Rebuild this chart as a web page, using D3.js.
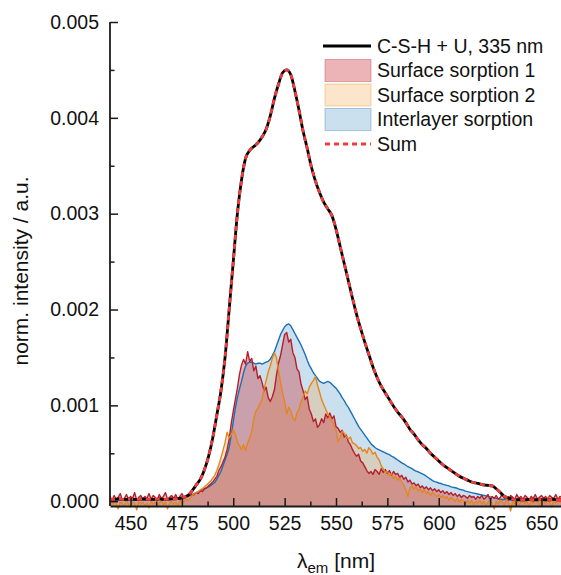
<!DOCTYPE html>
<html>
<head>
<meta charset="utf-8">
<script src="https://cdn.jsdelivr.net/npm/d3@7"></script>
<style>
  html, body { margin: 0; padding: 0; background: #fff; }
  svg { display: block; font-family: "Liberation Sans", Arial, sans-serif; }
</style>
</head>
<body>
<svg id="chart" width="561" height="575"></svg>
<script>
// Emission spectra in units of 1e-4 (normalised intensity).
const UNIT = 1e-4;

// Measured spectrum, sampled every 2 nm from 440 to 660 nm.
const totalStart = 440, totalStep = 2;
const totalSpectrum = [
  0.2,0.2,0.25,0.2,0.2,0.25,0.2,0.2,0.25,0.2,0.2,0.2,0.25,0.2,0.2,0.25,0.25,0.3,
  0.4,0.6,1.1,1.7,2.3,3.3,4.7,6.6,9.0,11.5,15.0,20.0,25.0,30.0,33.5,35.8,36.6,37.0,
  37.4,38.0,38.8,40.2,42.0,43.5,44.7,45.0,44.5,42.8,40.8,38.6,36.8,34.9,33.4,32.2,
  31.2,30.5,29.8,28.4,26.6,24.8,23.0,21.2,19.5,18.0,16.6,15.3,14.0,12.9,12.0,11.3,
  10.6,9.9,9.3,8.8,8.2,7.5,7.0,6.4,5.9,5.5,5.0,4.6,4.2,3.8,3.5,3.2,2.9,2.6,2.4,2.2,
  2.0,1.9,1.8,1.7,1.65,1.6,1.3,0.9,0.5,0.35,0.2,0.15,
  0.15,0.15,0.2,0.15,0.15,0.2,0.15,0.15,0.2,0.15,0.15
];
// The fitted sum of the three components coincides with the measured spectrum.
const fittedSum = totalSpectrum;

// Component spectra, sampled every 1 nm from 440 to 660 nm.
const compStart = 440, compStep = 1;
const surfaceSorption1 = [
  0.5,0.1,0.6,0.2,0.4,0.8,0.1,0.3,0.7,0.2,
  0.5,0.3,0.9,0.1,0.4,0.6,0.2,0.5,0.3,0.8,
  0.2,0.6,0.4,0.1,0.7,0.3,0.5,0.9,0.2,0.4,
  0.6,0.3,0.7,0.2,0.5,0.8,0.4,0.6,0.5,0.7,
  0.6,0.7,0.9,0.8,1.1,1.0,1.3,1.4,1.6,1.8,
  2.0,2.3,2.6,3.2,3.6,4.1,4.6,5.4,6.5,8.1,
  9.4,10.6,11.8,13.2,14.2,14.8,14.3,15.6,14.6,14.9,
  13.6,14.1,12.8,13.1,12.4,11.5,11.9,10.8,10.4,10.9,
  11.6,13.1,14.4,15.2,16.3,17.4,17.6,16.6,16.9,15.5,
  15.0,13.8,13.5,12.2,11.5,10.6,10.9,9.6,9.1,8.3,
  8.6,7.7,8.0,8.6,8.2,9.1,8.7,9.2,8.6,8.9,
  7.8,7.6,7.2,7.4,6.7,6.9,6.2,5.9,5.4,5.0,
  4.7,4.9,4.2,4.0,3.6,3.2,2.9,3.1,2.8,3.3,
  3.1,2.8,3.4,3.0,3.3,2.9,3.2,2.7,3.1,2.8,
  2.9,2.5,2.7,2.3,2.5,2.0,2.2,1.8,1.9,1.6,
  1.8,1.4,1.6,1.3,1.5,1.2,1.4,1.1,1.3,1.0,
  1.2,0.9,1.1,0.8,1.0,0.7,0.9,0.6,0.8,0.5,
  0.7,0.4,0.6,0.5,0.3,0.6,0.4,0.5,0.2,0.5,
  0.3,0.6,0.2,0.4,0.7,0.1,0.5,0.3,0.6,0.2,
  0.4,0.8,0.3,0.5,0.1,0.6,0.4,0.2,0.7,0.3,
  0.5,0.2,0.6,0.4,0.1,0.5,0.3,0.7,0.2,0.4,
  0.6,0.3,0.5,0.2,0.6,0.4,0.3,0.7,0.2,0.5,0.4
];
const surfaceSorption2 = [
  -0.1,-0.4,0.0,-0.3,-0.8,-0.1,-0.2,-0.5,0.1,-0.3,
  -0.6,-0.1,-0.2,-0.9,0.0,-0.3,-0.1,-0.5,-0.2,-0.7,
  0.0,-0.3,-0.1,-0.6,-0.2,0.1,-0.4,-0.1,-0.8,-0.2,
  0.0,-0.3,-0.1,-0.5,0.1,-0.2,0.0,0.2,0.1,0.3,
  0.6,0.8,0.9,1.0,1.2,1.3,1.5,1.7,1.9,2.1,
  2.4,2.7,3.2,3.8,4.5,5.3,6.1,7.2,6.6,6.9,
  7.5,7.0,6.2,5.8,5.4,5.9,5.3,6.1,6.6,7.3,
  8.6,9.4,9.7,10.2,10.6,11.7,12.6,13.5,14.1,14.9,
  15.5,15.0,13.6,12.4,11.3,10.4,9.1,9.8,9.4,8.7,
  8.4,9.2,9.6,10.4,10.9,11.5,11.2,11.9,12.3,12.6,
  13.0,12.1,11.4,10.6,10.1,9.6,9.1,8.8,8.4,7.9,
  7.4,6.2,6.6,7.3,7.1,6.8,6.5,6.7,6.1,6.0,
  5.8,5.5,5.6,5.2,5.4,5.0,5.6,5.3,4.9,5.1,
  4.6,4.3,3.7,3.4,3.0,3.1,2.7,2.9,2.4,2.6,
  2.2,2.4,2.0,1.7,1.2,0.5,1.4,1.6,1.3,1.5,
  1.1,1.3,0.9,1.2,0.8,1.0,0.6,0.9,0.7,0.5,
  0.7,0.4,0.6,0.3,0.5,0.1,0.4,0.2,0.0,0.3,
  -0.1,0.2,0.0,-0.3,0.1,-0.2,0.1,-0.4,0.0,-0.2,
  0.1,-0.3,0.0,-0.5,-0.1,0.2,-0.2,-0.8,0.0,-0.3,
  0.1,-0.1,-0.4,0.2,-0.2,-1.0,0.0,-0.3,0.1,-0.5,
  -0.1,0.2,-0.3,0.0,-0.6,0.1,-0.2,0.3,-0.1,-0.4,
  0.2,0.0,-0.3,0.4,-0.1,-0.6,0.1,-0.2,0.3,-0.1,0.0
];
const interlayerSorption = [
  0.1,0.15,0.1,0.05,0.15,0.1,0.2,0.1,0.15,0.1,
  0.2,0.1,0.15,0.1,0.2,0.15,0.1,0.2,0.15,0.1,
  0.2,0.15,0.2,0.1,0.2,0.15,0.2,0.15,0.25,0.2,
  0.2,0.25,0.3,0.3,0.35,0.4,0.45,0.5,0.55,0.6,
  0.7,0.8,0.9,1.0,1.1,1.2,1.3,1.4,1.5,1.65,
  1.8,1.95,2.3,2.7,3.1,3.7,4.3,4.9,5.6,6.9,
  8.3,9.7,10.8,11.7,12.5,13.4,14.1,14.4,14.5,14.5,
  14.4,14.3,14.4,14.4,14.3,14.4,14.5,14.6,14.8,15.2,
  15.6,16.2,16.8,17.4,17.8,18.2,18.4,18.5,18.3,17.9,
  17.5,17.1,16.7,16.3,15.8,15.3,14.7,14.2,13.8,13.4,
  13.1,12.8,12.5,12.4,12.3,12.4,12.5,12.4,12.2,12.0,
  11.8,11.5,11.2,10.8,10.5,10.1,9.8,9.4,9.0,8.6,
  8.2,7.8,7.5,7.2,6.9,6.6,6.3,6.0,5.8,5.6,
  5.45,5.35,5.25,5.15,5.05,4.95,4.85,4.7,4.6,4.45,
  4.3,4.15,4.0,3.9,3.75,3.6,3.5,3.4,3.25,3.15,
  3.05,2.95,2.85,2.75,2.6,2.45,2.3,2.15,2.05,2.0,
  1.9,1.85,1.75,1.7,1.65,1.6,1.5,1.45,1.4,1.35,
  1.25,1.2,1.15,1.05,1.0,0.95,0.9,0.85,0.8,0.75,
  0.7,0.65,0.6,0.55,0.5,0.45,0.4,0.35,0.3,0.25,
  0.2,0.15,0.2,0.15,0.1,0.15,0.2,0.15,0.1,0.15,
  0.2,0.1,0.15,0.2,0.1,0.15,0.1,0.2,0.15,0.1,
  0.15,0.2,0.1,0.15,0.1,0.2,0.15,0.1,0.15,0.2,0.1
];

// Axis ticks
const xMajorTicks = [450, 475, 500, 525, 550, 575, 600, 625, 650];
const xMinorTicks = [462.5, 487.5, 512.5, 537.5, 562.5, 587.5, 612.5, 637.5];
const yMajorTicks = [0, 0.001, 0.002, 0.003, 0.004, 0.005];
const yMinorTicks = [0.0005, 0.0015, 0.0025, 0.0035, 0.0045];

const legendLabels = ["C-S-H + U, 335 nm", "Surface sorption 1", "Surface sorption 2", "Interlayer sorption", "Sum"];

// ---- drawing ----
const svg = d3.select("#chart");
const plotLeft = 110, plotRight = 562, plotTop = 22, plotBottom = 506;

const x = d3.scaleLinear().domain([440, 660]).range([plotLeft, plotRight]);
const y = d3.scaleLinear().domain([-0.00005, 0.005]).range([plotBottom, plotTop]);

const toPoints = (vals, start, step) => vals.map((v, i) => [start + i * step, v * UNIT]);

const totalPts = toPoints(totalSpectrum, totalStart, totalStep);
const sumPts = toPoints(fittedSum, totalStart, totalStep);
const s1Pts = toPoints(surfaceSorption1, compStart, compStep);
const s2Pts = toPoints(surfaceSorption2, compStart, compStep);
const ilPts = toPoints(interlayerSorption, compStart, compStep);

svg.append("defs").append("clipPath").attr("id", "plotClip")
  .append("rect").attr("x", plotLeft).attr("y", 0).attr("width", plotRight - plotLeft).attr("height", 575);

const plot = svg.append("g").attr("clip-path", "url(#plotClip)");

const area = d3.area().x(d => x(d[0])).y0(plotBottom).y1(d => y(d[1]));
const line = d3.line().x(d => x(d[0])).y(d => y(d[1]));
const smoothLine = d3.line().x(d => x(d[0])).y(d => y(d[1])).curve(d3.curveMonotoneX);

const comps = [
  { data: ilPts, fill: "rgb(31,119,180)", alpha: 0.23, stroke: "#1c6fb5" },
  { data: s2Pts, fill: "rgb(248,150,50)", alpha: 0.25, stroke: "#e3861f" },
  { data: s1Pts, fill: "rgb(200,40,50)", alpha: 0.35, stroke: "#b3202c" }
];

comps.forEach(c => {
  plot.append("path").datum(c.data).attr("d", area)
    .attr("fill", c.fill).attr("fill-opacity", c.alpha).attr("stroke", "none");
});
// component outlines: interlayer, then surface 1, then surface 2 on top
[comps[0], comps[2], comps[1]].forEach(c => {
  plot.append("path").datum(c.data).attr("d", line)
    .attr("fill", "none").attr("stroke", c.stroke).attr("stroke-width", 1.4)
    .attr("stroke-linejoin", "round");
});

plot.append("path").datum(totalPts).attr("d", smoothLine)
  .attr("fill", "none").attr("stroke", "#000").attr("stroke-width", 2.8);
plot.append("path").datum(sumPts).attr("d", smoothLine)
  .attr("fill", "none").attr("stroke", "#f03c3c").attr("stroke-width", 2.8)
  .attr("stroke-dasharray", "5,4");

// ---- axes ----
const axisColor = "#1a1a1a";
svg.append("g").attr("transform", `translate(0,${plotBottom})`)
  .call(d3.axisBottom(x).tickValues(xMajorTicks).tickFormat(d3.format("d"))
    .tickSizeInner(-8).tickSizeOuter(0).tickPadding(10));
svg.append("g").attr("transform", `translate(0,${plotBottom})`)
  .call(d3.axisBottom(x).tickValues(xMinorTicks).tickFormat("")
    .tickSizeInner(-4.5).tickSizeOuter(0))
  .call(g => g.select(".domain").remove());

const yAxis = svg.append("g").attr("transform", `translate(${plotLeft},0)`)
  .call(d3.axisLeft(y).tickValues(yMajorTicks).tickFormat(d3.format(".3f"))
    .tickSizeInner(-8).tickSizeOuter(0).tickPadding(11));
svg.append("g").attr("transform", `translate(${plotLeft},0)`)
  .call(d3.axisLeft(y).tickValues(yMinorTicks).tickFormat("")
    .tickSizeInner(-4.5).tickSizeOuter(0))
  .call(g => g.select(".domain").remove());

svg.selectAll(".domain").attr("stroke", axisColor).attr("stroke-width", 1.8);
svg.selectAll(".tick line").attr("stroke", axisColor).attr("stroke-width", 1.5);
svg.selectAll(".tick text").attr("font-family", "Liberation Sans, Arial, sans-serif")
  .attr("font-size", 19.5).attr("fill", "#111");

// y axis line spans the full plot height
yAxis.select(".domain").attr("d", `M0,${plotBottom}V${plotTop}`);

// axis titles
svg.append("text")
  .attr("transform", `translate(28,271) rotate(-90)`)
  .attr("text-anchor", "middle")
  .attr("font-size", 21).attr("fill", "#111")
  .text("norm. intensity / a.u.");

const xt = svg.append("text")
  .attr("x", 336).attr("y", 568)
  .attr("text-anchor", "middle")
  .attr("font-size", 21).attr("fill", "#111");
xt.append("tspan").text("λ");
xt.append("tspan").attr("font-size", 15).attr("dy", 5).text("em");
xt.append("tspan").attr("dy", -5).text(" [nm]");

// ---- legend ----
const lg = svg.append("g");
const rowY = [46, 70.5, 95, 119.5, 144];
const lx0 = 325, lx1 = 371;
// measured spectrum: solid black line
lg.append("line").attr("x1", lx0 - 2).attr("x2", lx1).attr("y1", rowY[0]).attr("y2", rowY[0])
  .attr("stroke", "#000").attr("stroke-width", 2.8);
// component swatches
const swatches = [comps[2], comps[1], comps[0]];
swatches.forEach((c, i) => {
  lg.append("rect").attr("x", lx0).attr("y", rowY[i + 1] - 11).attr("width", lx1 - lx0).attr("height", 22)
    .attr("fill", c.fill).attr("fill-opacity", c.alpha)
    .attr("stroke", c.stroke).attr("stroke-opacity", 0.35).attr("stroke-width", 1);
});
// fitted sum: dashed red
lg.append("line").attr("x1", lx0).attr("x2", lx1).attr("y1", rowY[4]).attr("y2", rowY[4])
  .attr("stroke", "#f03c3c").attr("stroke-width", 2.8).attr("stroke-dasharray", "5,4");

legendLabels.forEach((t, i) => {
  lg.append("text").attr("x", 377).attr("y", rowY[i]).attr("dy", "0.35em")
    .attr("font-size", 19.5).attr("fill", "#111").text(t);
});
</script>
</body>
</html>
